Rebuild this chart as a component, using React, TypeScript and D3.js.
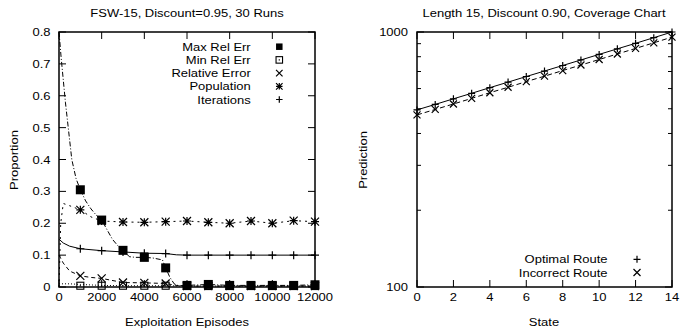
import React from 'react';
import * as d3 from 'd3';

// ---- left chart data (FSW-15) ----
const episodeTicks = [0, 2000, 4000, 6000, 8000, 10000, 12000];
const proportionTicks = [0, 0.1, 0.2, 0.3, 0.4, 0.5, 0.6, 0.7, 0.8];
const markerEpisodes = [1000, 2000, 3000, 4000, 5000, 6000, 7000, 8000, 9000, 10000, 11000, 12000];

const maxErrCurveX = [0, 100, 200, 300, 400, 500, 600, 700, 800, 1000, 1250, 1500, 1750, 2000, 2250, 2500, 2750, 3000, 3300, 3600, 4000, 4400, 4850, 5000, 5200, 5400, 5600, 6000, 7000, 8000, 9000, 10000, 11000, 12000];
const maxErrCurveY = [0.8, 0.72, 0.65, 0.58, 0.52, 0.46, 0.4, 0.37, 0.34, 0.305, 0.27, 0.245, 0.225, 0.21, 0.18, 0.15, 0.13, 0.115, 0.095, 0.093, 0.093, 0.091, 0.085, 0.06, 0.03, 0.01, 0.004, 0.005, 0.008, 0.005, 0.005, 0.005, 0.005, 0.007];
const maxErrPoints = [0.305, 0.21, 0.115, 0.093, 0.06, 0.005, 0.008, 0.005, 0.005, 0.005, 0.005, 0.007];

const minErrCurveX = [0, 500, 1000, 2000, 3000, 4000, 5000, 6000, 8000, 10000, 12000];
const minErrCurveY = [0.01, 0.01, 0.008, 0.005, 0.004, 0.004, 0.004, 0.003, 0.003, 0.003, 0.003];
const minErrPoints = [0.004, 0.004, 0.004, 0.004, 0.004, 0.003, 0.003, 0.003, 0.003, 0.003, 0.003, 0.003];

const relErrCurveX = [0, 200, 500, 1000, 1500, 2000, 3000, 4000, 5000, 5500, 6000, 8000, 10000, 12000];
const relErrCurveY = [0.1, 0.075, 0.05, 0.035, 0.03, 0.027, 0.014, 0.013, 0.011, 0.005, 0.003, 0.003, 0.003, 0.003];
const relErrPoints = [0.035, 0.027, 0.014, 0.013, 0.011, 0.003, 0.003, 0.003, 0.003, 0.003, 0.003, 0.003];

const popCurveX = [0, 80, 200, 500, 1000, 1500, 2000, 3000, 4000, 5000, 6000, 7000, 8000, 9000, 10000, 11000, 12000];
const popCurveY = [0, 0.2, 0.262, 0.255, 0.242, 0.22, 0.207, 0.204, 0.203, 0.205, 0.207, 0.203, 0.2, 0.207, 0.2, 0.208, 0.205];
const popPoints = [0.242, 0.207, 0.204, 0.203, 0.205, 0.207, 0.203, 0.2, 0.207, 0.2, 0.208, 0.205];

const iterCurveX = [0, 200, 500, 1000, 2000, 3000, 4000, 5000, 5500, 6000, 8000, 10000, 12000];
const iterCurveY = [0.15, 0.138, 0.128, 0.12, 0.114, 0.11, 0.106, 0.105, 0.101, 0.1, 0.1, 0.1, 0.1];
const iterPoints = [0.12, 0.114, 0.11, 0.106, 0.105, 0.1, 0.1, 0.1, 0.1, 0.1, 0.1, 0.1];

// ---- right chart data (coverage) ----
const states = [0, 1, 2, 3, 4, 5, 6, 7, 8, 9, 10, 11, 12, 13, 14];
const stateTicks = [0, 2, 4, 6, 8, 10, 12, 14];
const optimalRoute = [495, 520, 547, 575, 605, 636, 669, 703, 739, 777, 817, 859, 903, 950, 1000];
const incorrectRoute = [473, 497, 522, 549, 578, 607, 639, 671, 706, 742, 780, 820, 862, 907, 955];
const predMajor = [100, 1000];
const predMinor = [200, 300, 400, 500, 600, 700, 800, 900];

const FONT = '"Liberation Sans", Arial, Helvetica, sans-serif';

type MarkerKind = 'filledSquare' | 'openSquare' | 'cross' | 'star' | 'plus';

// gnuplot-style text: a bit wider than it is tall
const Txt = ({ x, y, anchor = 'start', rot = false, mid = false, children }: any) => (
  <text
    transform={`translate(${x},${y})${rot ? ' rotate(-90)' : ''} scale(1.15,1)`}
    textAnchor={anchor}
    dy={mid ? '0.36em' : undefined}
  >
    {children}
  </text>
);

const Marker = ({ kind, x, y, s }: { kind: MarkerKind; x: number; y: number; s: number }) => {
  const h = s / 2;
  if (kind === 'filledSquare') return <rect x={x - h} y={y - h} width={s} height={s} fill="#000" />;
  if (kind === 'openSquare')
    return (
      <g>
        <rect x={x - h} y={y - h} width={s} height={s} fill="none" stroke="#000" strokeWidth={1.1} />
        <rect x={x - 0.6} y={y - 0.6} width={1.2} height={1.2} fill="#000" />
      </g>
    );
  const plus = `M${x - h},${y}H${x + h}M${x},${y - h}V${y + h}`;
  const cross = `M${x - h},${y - h}L${x + h},${y + h}M${x - h},${y + h}L${x + h},${y - h}`;
  const d = kind === 'plus' ? plus : kind === 'cross' ? cross : plus + cross;
  return <path d={d} stroke="#000" strokeWidth={1.2} fill="none" />;
};

export default function App() {
  // left scales
  const xL = d3.scaleLinear().domain([0, 12000]).range([59, 315]);
  const yL = d3.scaleLinear().domain([0, 0.8]).range([287, 32]);
  // right scales
  const xR = d3.scaleLinear().domain([0, 14]).range([417, 672]);
  const yR = d3.scaleLog().domain([100, 1000]).range([287, 32]);

  const lineL = (xs: number[], ys: number[]) =>
    d3.line<number>().x((_, i) => xL(xs[i])).y((v) => yL(v))(ys) || '';
  const lineR = (ys: number[]) =>
    d3.line<number>().x((_, i) => xR(states[i])).y((v) => yR(v))(ys) || '';

  const leftSeries = [
    { name: 'Max Rel Err', kind: 'filledSquare' as MarkerKind, cx: maxErrCurveX, cy: maxErrCurveY, pts: maxErrPoints, dash: '5,2,1,2', size: 9 },
    { name: 'Min Rel Err', kind: 'openSquare' as MarkerKind, cx: minErrCurveX, cy: minErrCurveY, pts: minErrPoints, dash: '1,2', size: 7 },
    { name: 'Relative Error', kind: 'cross' as MarkerKind, cx: relErrCurveX, cy: relErrCurveY, pts: relErrPoints, dash: '4,3', size: 8 },
    { name: 'Population', kind: 'star' as MarkerKind, cx: popCurveX, cy: popCurveY, pts: popPoints, dash: '2,4', size: 8 },
    { name: 'Iterations', kind: 'plus' as MarkerKind, cx: iterCurveX, cy: iterCurveY, pts: iterPoints, dash: undefined, size: 8 },
  ];

  const rightSeries = [
    { name: 'Optimal Route', kind: 'plus' as MarkerKind, vals: optimalRoute, dash: undefined },
    { name: 'Incorrect Route', kind: 'cross' as MarkerKind, vals: incorrectRoute, dash: '5,3' },
  ];

  const [l0, l1] = xL.range();
  const [b0, t0] = yL.range();
  const [r0, r1] = xR.range();

  return (
    <svg
      width={681}
      height={335}
      style={{ position: 'absolute', left: 0, top: 0, background: '#fff' }}
      fontFamily={FONT}
      fontSize={11.3}
    >
      {/* ===== left chart ===== */}
      <Txt x={187} y={16.7} anchor="middle">FSW-15, Discount=0.95, 30 Runs</Txt>
      <Txt x={18} y={160} anchor="middle" rot>Proportion</Txt>
      <Txt x={187} y={325.7} anchor="middle">Exploitation Episodes</Txt>

      {proportionTicks.map((t) => (
        <g key={'ly' + t}>
          <line x1={l0} x2={l0 + 7} y1={yL(t)} y2={yL(t)} stroke="#000" />
          <line x1={l1} x2={l1 - 7} y1={yL(t)} y2={yL(t)} stroke="#000" />
          <Txt x={50.5} y={yL(t)} anchor="end" mid>{t === 0 ? '0' : t.toFixed(1)}</Txt>
        </g>
      ))}
      {episodeTicks.map((t) => (
        <g key={'lx' + t}>
          <line x1={xL(t)} x2={xL(t)} y1={b0} y2={b0 - 7} stroke="#000" />
          <line x1={xL(t)} x2={xL(t)} y1={t0} y2={t0 + 7} stroke="#000" />
          <Txt x={xL(t)} y={301} anchor="middle">{t}</Txt>
        </g>
      ))}

      {leftSeries.map((s) => (
        <g key={s.name}>
          <path d={lineL(s.cx, s.cy)} fill="none" stroke="#000" strokeWidth={1} strokeDasharray={s.dash} />
          {s.pts.map((v, i) => (
            <Marker key={i} kind={s.kind} x={xL(markerEpisodes[i])} y={yL(v)} s={s.size} />
          ))}
        </g>
      ))}

      {leftSeries.map((s, i) => (
        <g key={'leg' + s.name}>
          <Txt x={250.7} y={50.7 + i * 13.2} anchor="end">{s.name}</Txt>
          <Marker kind={s.kind} x={279.3} y={46.7 + i * 13.2} s={6.5} />
        </g>
      ))}

      <rect x={l0} y={t0} width={l1 - l0} height={b0 - t0} fill="none" stroke="#000" strokeWidth={1.5} />

      {/* ===== right chart ===== */}
      <Txt x={544} y={16.7} anchor="middle">Length 15, Discount 0.90, Coverage Chart</Txt>
      <Txt x={367} y={160} anchor="middle" rot>Prediction</Txt>
      <Txt x={544} y={325.7} anchor="middle">State</Txt>

      {predMajor.map((t) => (
        <g key={'ry' + t}>
          <line x1={r0} x2={r0 + 7} y1={yR(t)} y2={yR(t)} stroke="#000" />
          <line x1={r1} x2={r1 - 7} y1={yR(t)} y2={yR(t)} stroke="#000" />
          <Txt x={408} y={yR(t)} anchor="end" mid>{t}</Txt>
        </g>
      ))}
      {predMinor.map((t) => (
        <g key={'rym' + t}>
          <line x1={r0} x2={r0 + 4} y1={yR(t)} y2={yR(t)} stroke="#000" />
          <line x1={r1} x2={r1 - 4} y1={yR(t)} y2={yR(t)} stroke="#000" />
        </g>
      ))}
      {stateTicks.map((t) => (
        <g key={'rx' + t}>
          <line x1={xR(t)} x2={xR(t)} y1={287} y2={280} stroke="#000" />
          <line x1={xR(t)} x2={xR(t)} y1={32} y2={39} stroke="#000" />
          <Txt x={xR(t)} y={301} anchor="middle">{t}</Txt>
        </g>
      ))}

      {rightSeries.map((s) => (
        <g key={s.name}>
          <path d={lineR(s.vals)} fill="none" stroke="#000" strokeWidth={1} strokeDasharray={s.dash} />
          {s.vals.map((v, i) => (
            <Marker key={i} kind={s.kind} x={xR(states[i])} y={yR(v)} s={7} />
          ))}
        </g>
      ))}

      {rightSeries.map((s, i) => (
        <g key={'rleg' + s.name}>
          <Txt x={607.5} y={263.3 + i * 13.2} anchor="end">{s.name}</Txt>
          <Marker kind={s.kind} x={637} y={259.3 + i * 13.2} s={7} />
        </g>
      ))}

      <rect x={r0} y={32} width={r1 - r0} height={255} fill="none" stroke="#000" strokeWidth={1.5} />
    </svg>
  );
}
